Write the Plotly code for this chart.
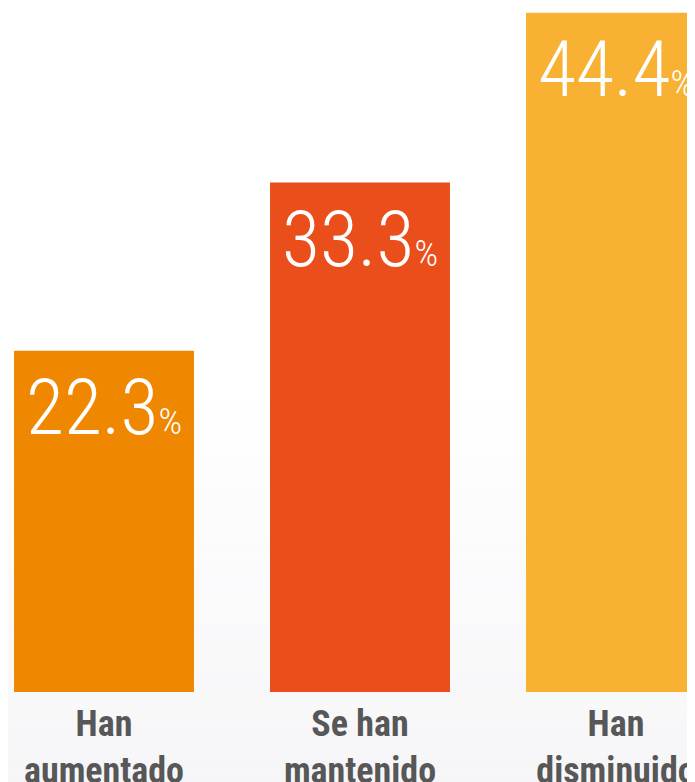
import plotly.graph_objects as go

categories = ["Han<br>aumentado", "Se han<br>mantenido", "Han<br>disminuido"]
values = [22.3, 33.3, 44.4]
colors = ["#F08700", "#E94E1B", "#F8B133"]

labels = [f"{v:.1f}<span style='font-size:37px'>%</span>" for v in values]

fig = go.Figure(go.Bar(
    x=categories, y=values, marker=dict(color=colors, line=dict(width=0)),
    hoverinfo="skip",
))

for c, v, t in zip(categories, values, labels):
    fig.add_annotation(x=c, y=v, xref="x", yref="y", text=t, showarrow=False,
                       xanchor="center", yanchor="top", yshift=-9,
                       font=dict(family="Roboto Condensed", size=78, weight=300, color="white"))

# subtle vertical background gradient (white at top, faint gray at bottom)
plot_h = 684
shapes = []
nb = 24
top_px = 380
for i in range(nb):
    y0px = top_px + i * (782 - top_px) / nb
    y1px = top_px + (i + 1) * (782 - top_px) / nb
    g = round(255 - 9 * (i + 1) / nb)
    b = round(255 - 7 * (i + 1) / nb)
    shapes.append(dict(type="rect", xref="paper", yref="paper", x0=0, x1=1,
                       y0=(plot_h - y1px) / plot_h, y1=(plot_h - y0px) / plot_h,
                       fillcolor=f"rgb({g},{g},{b})", line=dict(width=0), layer="below"))

fig.update_layout(
    width=695, height=782,
    margin=dict(l=0, r=0, t=0, b=98, autoexpand=False),
    paper_bgcolor="#ffffff", plot_bgcolor="rgba(0,0,0,0)",
    bargap=0.297, showlegend=False, shapes=shapes,
)
fig.update_xaxes(range=[-0.375, 2.33984], showgrid=False, zeroline=False, showline=False,
                 automargin=False,
                 ticks="", tickfont=dict(family="Roboto Condensed", size=36, weight=700, color="#575757"),
                 ticklabelstandoff=7)
fig.update_yaxes(range=[0, 684/15.3], visible=False, automargin=False)
fig.write_html("out.html")
